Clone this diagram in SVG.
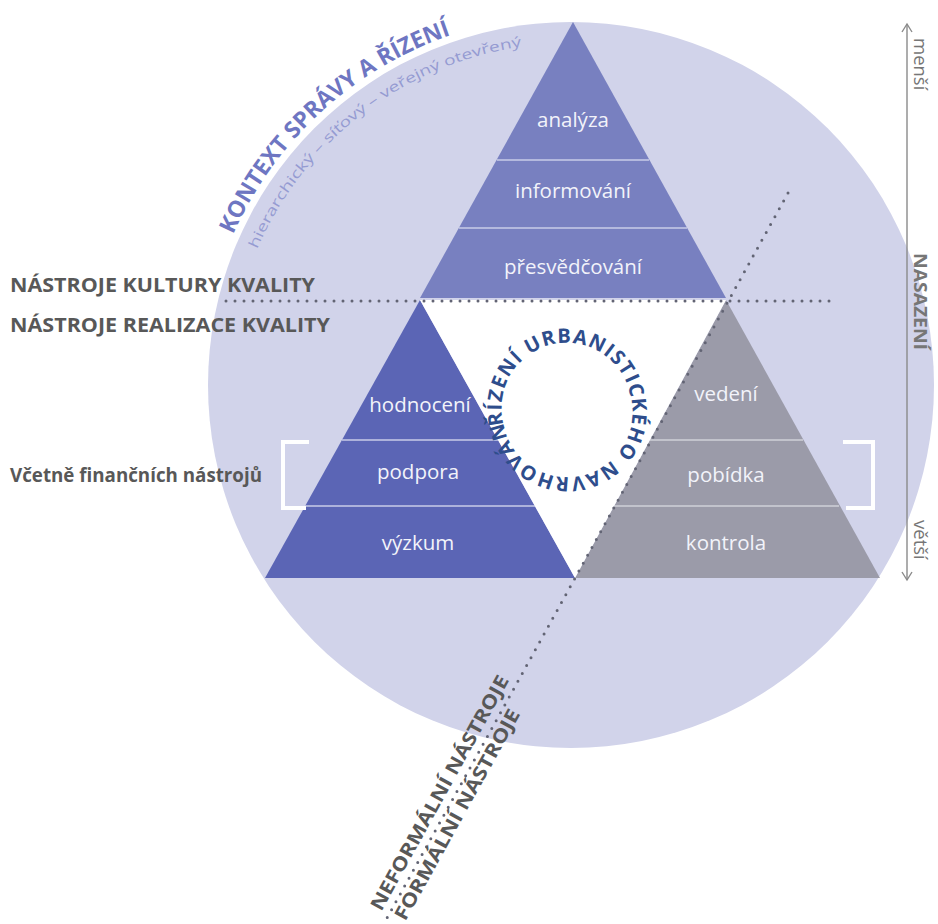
<svg xmlns="http://www.w3.org/2000/svg" width="938" height="924" viewBox="0 0 938 924">
<defs>
<style>
.lbl{font-family:"Open Sans","Liberation Sans",sans-serif;font-size:20.5px;fill:#f2f3fa;text-anchor:middle}
.sep{stroke:#c9cce8;stroke-width:1.5}
.sepg{stroke:#cfd0d8;stroke-width:1.5}
.side{font-family:"Open Sans","Liberation Sans",sans-serif;font-weight:bold;font-size:19px;fill:#585858}
.dots{stroke:#626474;stroke-width:3;stroke-linecap:round;stroke-dasharray:0 9;fill:none}
.brk{fill:none;stroke:#ffffff;stroke-width:4}
.axis{font-family:"Open Sans","Liberation Sans",sans-serif;font-size:18.5px;fill:#767676}
</style>
<marker id="chev" viewBox="0 0 12 12" refX="10" refY="6" markerWidth="12" markerHeight="12" markerUnits="userSpaceOnUse" orient="auto-start-reverse">
<path d="M2,1 L10,6 L2,11" fill="none" stroke="#8a8a8a" stroke-width="1.4"/>
</marker>
<path id="arcK" d="M233,234.5 A370,370 0 0,1 506.8,20.6"/>
<path id="arcS" d="M257.1,249.2 A342,342 0 0,1 600.8,44.3"/>
<path id="ring" d="M503.7,424.6 A65,65 0 1,1 630.3,395.4 A65,65 0 1,1 503.7,424.6"/>
</defs>

<g id="context-circle">
<circle cx="571" cy="385" r="363" fill="#d1d3ea"/>
<text font-family="'Open Sans','Liberation Sans',sans-serif" font-weight="bold" font-size="23" fill="#6e76c2"><textPath href="#arcK" textLength="304" lengthAdjust="spacingAndGlyphs">KONTEXT SPRÁVY A ŘÍZENÍ</textPath></text>
<text font-family="'Open Sans','Liberation Sans',sans-serif" font-size="14" fill="#959bd2"><textPath href="#arcS" textLength="348" lengthAdjust="spacingAndGlyphs">hierarchický – síťový – veřejný otevřený</textPath></text>
</g>

<g id="pyramid-culture">
<polygon points="573,22 420,298 726,298" fill="#7880c0"/>
<line class="sep" x1="497" y1="160" x2="649" y2="160"/>
<line class="sep" x1="459" y1="228" x2="687" y2="228"/>
<text class="lbl" x="573" y="127">analýza</text>
<text class="lbl" x="573" y="198">informování</text>
<text class="lbl" x="573" y="274">přesvědčování</text>
</g>

<g id="pyramid-formal-support">
<polygon points="420,300 265,578 575,578" fill="#5b65b5"/>
<line class="sep" x1="342" y1="440" x2="498" y2="440"/>
<line class="sep" x1="305" y1="506" x2="535" y2="506"/>
<text class="lbl" x="420" y="412">hodnocení</text>
<text class="lbl" x="418" y="479">podpora</text>
<text class="lbl" x="418" y="550">výzkum</text>
</g>

<g id="pyramid-regulation">
<polygon points="726,300 575,578 880,578" fill="#9b9ba9"/>
<line class="sepg" x1="650" y1="440" x2="803" y2="440"/>
<line class="sepg" x1="614" y1="506" x2="839" y2="506"/>
<text class="lbl" x="726" y="401">vedení</text>
<text class="lbl" x="726" y="482">pobídka</text>
<text class="lbl" x="726" y="550">kontrola</text>
</g>

<g id="center-core">
<polygon points="420,300 726,300 575,578" fill="#ffffff"/>
<text font-family="'Open Sans','Liberation Sans',sans-serif" font-weight="bold" font-size="20" fill="#2e4d8c" letter-spacing="1.2"><textPath href="#ring">ŘÍZENÍ URBANISTICKÉHO NAVRHOVÁNÍ</textPath></text>
</g>

<g id="brackets">
<polyline class="brk" points="309,442 283,442 283,508 306,508"/>
<polyline class="brk" points="843,442 873,442 873,508 846,508"/>
</g>

<g id="connectors">
<line class="dots" x1="226" y1="301" x2="838" y2="301"/>
<line class="dots" x1="788" y1="193" x2="387" y2="918"/>
<line x1="907" y1="24" x2="907" y2="580" stroke="#8a8a8a" stroke-width="1.4" marker-start="url(#chev)" marker-end="url(#chev)"/>
</g>

<g id="left-labels">
<text class="side" x="10" y="292" textLength="305" lengthAdjust="spacingAndGlyphs">NÁSTROJE KULTURY KVALITY</text>
<text class="side" x="10" y="332" textLength="320" lengthAdjust="spacingAndGlyphs">NÁSTROJE REALIZACE KVALITY</text>
<text class="side" x="10" y="482" font-size="15.5" textLength="252" lengthAdjust="spacingAndGlyphs">Včetně finančních nástrojů</text>
</g>

<g id="axis-labels">
<text class="axis" transform="translate(914,38) rotate(90)">menší</text>
<text class="axis" transform="translate(914,253) rotate(90)" font-weight="bold" font-size="18" fill="#626262" textLength="97" lengthAdjust="spacingAndGlyphs">NASAZENÍ</text>
<text class="axis" transform="translate(914,520) rotate(90)">větší</text>
</g>

<g id="formal-labels" transform="translate(575 578) rotate(-61.05)">
<text class="side" x="-386" y="-8" textLength="265" lengthAdjust="spacingAndGlyphs">NEFORMÁLNÍ NÁSTROJE</text>
<text class="side" x="-383" y="18" textLength="238" lengthAdjust="spacingAndGlyphs">FORMÁLNÍ NÁSTROJE</text>
</g>
</svg>
